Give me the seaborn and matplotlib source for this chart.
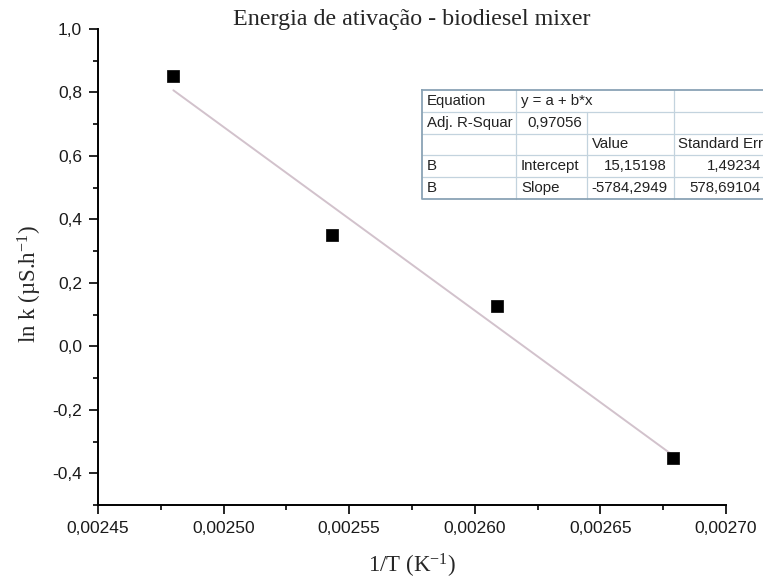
import numpy as np
import matplotlib
matplotlib.use("Agg")
import matplotlib.pyplot as plt
from matplotlib.ticker import FuncFormatter, MultipleLocator
import seaborn as sns

# ---- data ----
inv_T = [0.002480, 0.002543, 0.002609, 0.002679]
ln_k = [0.852, 0.350, 0.126, -0.353]
intercept = 15.15198
slope = -5784.2949

table_col1 = ["Equation", "Adj. R-Squar", "", "B", "B"]
table_col2 = ["y = a + b*x", "0,97056", "", "Intercept", "Slope"]
table_col3 = ["", "", "Value", "15,15198", "-5784,2949"]
table_col4 = ["", "", "Standard Err", "1,49234", "578,69104"]

title = "Energia de ativação - biodiesel mixer"
xlabel = "1/T (K$^{-1}$)"
ylabel = "ln k (µS.h$^{-1}$)"

# ---- style ----
sns.set_theme(style="ticks")
plt.rcParams["font.family"] = ["Liberation Sans", "DejaVu Sans"]
plt.rcParams["mathtext.default"] = "regular"

W, H = 763, 582
AX_L, AX_R, AX_T, AX_B = 98, 726, 29, 505
fig = plt.figure(figsize=(W / 100, H / 100), dpi=100, facecolor="white")
ax = fig.add_axes([AX_L / W, 1 - AX_B / H, (AX_R - AX_L) / W, (AX_B - AX_T) / H])
ax.set_facecolor("white")

# fit line
x_fit = np.array([inv_T[0], inv_T[-1]])
y_fit = intercept + slope * x_fit
sns.lineplot(x=x_fit, y=y_fit, color="#d2c2cc", linewidth=1.4, ax=ax)
# points
sns.scatterplot(x=inv_T, y=ln_k, marker="s", color="black", s=80,
                edgecolor="black", linewidth=0.5, ax=ax, zorder=3)

ax.set_xlim(0.00245, 0.00270)
ax.set_ylim(-0.5, 1.0)
ax.xaxis.set_major_locator(MultipleLocator(0.00005))
ax.xaxis.set_minor_locator(MultipleLocator(0.000025))
ax.yaxis.set_major_locator(MultipleLocator(0.2))
ax.yaxis.set_minor_locator(MultipleLocator(0.1))
ax.xaxis.set_major_formatter(FuncFormatter(lambda v, p: f"{v:.5f}".replace(".", ",")))
ax.yaxis.set_major_formatter(FuncFormatter(lambda v, p: f"{v:.1f}".replace(".", ",").replace("-0,0", "0,0")))

for s in ["top", "right"]:
    ax.spines[s].set_visible(False)
for s in ["left", "bottom"]:
    ax.spines[s].set_linewidth(1.4)
    ax.spines[s].set_color("black")
ax.tick_params(which="major", direction="out", length=6.5, width=1.2, colors="black",
               labelsize=12.5, labelcolor="#1a1a1a")
ax.tick_params(which="minor", direction="out", length=3.5, width=1.2, colors="black")
ax.tick_params(axis="y", which="major", pad=5)
ax.tick_params(axis="x", which="major", pad=5)

serif = ["Liberation Serif", "DejaVu Serif"]
fig.text((AX_L + AX_R) / 2 / W, 1 - 20 / H, title, family=serif, fontsize=17.3,
         ha="center", va="center")
fig.text((AX_L + AX_R) / 2 / W, 1 - 566 / H, xlabel, family=serif, fontsize=16.5,
         ha="center", va="center")
fig.text(30 / W, 1 - 284 / H, ylabel, family=serif, fontsize=16.5, ha="center",
         va="center", rotation=90)

# ---- fit results table (layout in pixels) ----
tx0, tx1, ty0, ty1 = 422, 766, 90, 199
tab = fig.add_axes([tx0 / W, 1 - ty1 / H, (tx1 - tx0) / W, (ty1 - ty0) / H])
tab.set_xlim(0, tx1 - tx0)
tab.set_ylim(ty1 - ty0, 0)
tab.axis("off")
cols = [0, 94, 165, 252, tx1 - tx0]
rows = [0, 21.8, 43.6, 65.4, 87.2, 109]
inner = "#c3d3de"
outer = "#8aa3b5"
for r in rows[1:-1]:
    tab.plot([0, cols[-1]], [r, r], color=inner, lw=0.9, clip_on=False)
tab.plot([cols[1]] * 2, [0, rows[-1]], color=inner, lw=0.9, clip_on=False)
tab.plot([cols[2]] * 2, [rows[1], rows[-1]], color=inner, lw=0.9, clip_on=False)
tab.plot([cols[3]] * 2, [0, rows[-1]], color=inner, lw=0.9, clip_on=False)
tab.plot([0, cols[-1], cols[-1], 0, 0], [0, 0, rows[-1], rows[-1], 0], color=outer,
         lw=1.3, clip_on=False)

tf = dict(family=["Liberation Sans", "DejaVu Sans"], fontsize=10.8, color="#222222",
          va="center")
for i in range(5):
    yc = (rows[i] + rows[i + 1]) / 2
    tab.text(cols[0] + 5, yc, table_col1[i], ha="left", **tf)
    pad2 = 11 if i == 1 else 5
    tab.text(cols[1] + pad2, yc, table_col2[i], ha="left", **tf)
    if i == 2:
        tab.text(cols[2] + 5, yc, table_col3[i], ha="left", **tf)
        tab.text(cols[3] + 4, yc, table_col4[i], ha="left", **tf)
    else:
        tab.text(cols[3] - 7, yc, table_col3[i], ha="right", **tf)
        tab.text(cols[4] - 5, yc, table_col4[i], ha="right", **tf)

fig.savefig("out.png", dpi=100, facecolor="white")
